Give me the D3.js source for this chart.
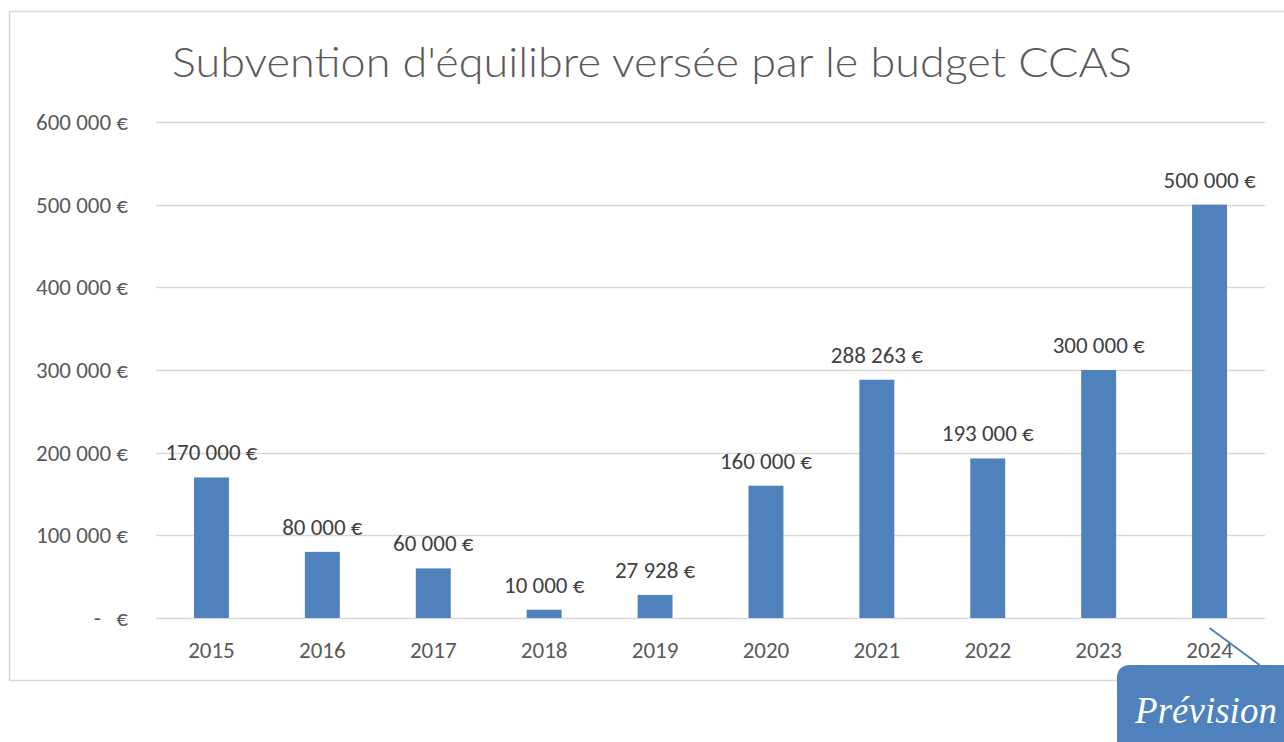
<!DOCTYPE html>
<html>
<head>
<meta charset="utf-8">
<script src="https://cdn.jsdelivr.net/npm/d3@7"></script>
<style>
  body { margin: 0; background: #fff; }
  svg { display: block; }
  text { white-space: pre; }
</style>
</head>
<body>
<script>
const years = ["2015", "2016", "2017", "2018", "2019", "2020", "2021", "2022", "2023", "2024"];
const amounts = [170000, 80000, 60000, 10000, 27928, 160000, 288263, 193000, 300000, 500000];
const yTicks = [0, 100000, 200000, 300000, 400000, 500000, 600000];
const title = "Subvention d'équilibre versée par le budget CCAS";
const callout = "Prévision";

const WIDTH = 1284;
const HEIGHT = 742;
const BLUE = "#4f81bd";
const FONT = "Carlito, Calibri, 'Open Sans', sans-serif";

const svg = d3.select("body")
              .append("svg")
              .attr("width", WIDTH)
              .attr("height", HEIGHT);

// chart frame
svg.append("rect")
   .attr("x", 9.5).attr("y", 11.5)
   .attr("width", 1300).attr("height", 669)
   .attr("fill", "white")
   .attr("stroke", "#d9d9d9")
   .attr("stroke-width", 1.5);

const x = d3.scaleBand()
            .domain(years)
            .range([156, 1265])
            .paddingInner(0.685)
            .paddingOuter(0.3425);

const y = d3.scaleLinear()
            .domain([0, 600000])
            .range([618, 122]);

const fmt = v => v === 0 ? "-   €" : d3.format(",")(v).replace(/,/g, " ") + " €";

// gridlines
svg.append("g")
   .selectAll("line")
   .data(yTicks)
   .join("line")
   .attr("x1", 156).attr("x2", 1265)
   .attr("y1", d => Math.round(y(d)) + 0.5)
   .attr("y2", d => Math.round(y(d)) + 0.5)
   .attr("stroke", "#d9d9d9")
   .attr("stroke-width", 1.5);

// y labels
svg.append("g")
   .selectAll("text")
   .data(yTicks)
   .join("text")
   .attr("x", 128)
   .attr("y", d => y(d) + 8)
   .attr("text-anchor", "end")
   .attr("font-family", FONT)
   .attr("font-size", 23)
   .attr("fill", "#595959")
   .text(fmt);

// bars
svg.append("g")
   .selectAll("rect")
   .data(amounts)
   .join("rect")
   .attr("x", (d, i) => x(years[i]))
   .attr("y", d => y(d))
   .attr("width", x.bandwidth())
   .attr("height", d => y(0) - y(d))
   .attr("fill", BLUE);

// data labels
svg.append("g")
   .selectAll("text")
   .data(amounts)
   .join("text")
   .attr("x", (d, i) => x(years[i]) + x.bandwidth() / 2)
   .attr("y", d => y(d) - 17)
   .attr("text-anchor", "middle")
   .attr("font-family", FONT)
   .attr("font-size", 23)
   .attr("fill", "#404040")
   .text(fmt);

// x labels
svg.append("g")
   .selectAll("text")
   .data(years)
   .join("text")
   .attr("x", d => x(d) + x.bandwidth() / 2)
   .attr("y", 658)
   .attr("text-anchor", "middle")
   .attr("font-family", FONT)
   .attr("font-size", 23)
   .attr("fill", "#595959")
   .text(d => d);

// title
svg.append("text")
   .attr("x", 652)
   .attr("y", 77)
   .attr("text-anchor", "middle")
   .attr("font-family", "Lato, Carlito, sans-serif")
   .attr("font-weight", 300)
   .attr("font-size", 42)
   .attr("fill", "#595959")
   .attr("textLength", 960)
   .attr("lengthAdjust", "spacingAndGlyphs")
   .text(title);

// callout "Prévision"
const last = years[years.length - 1];
const cx = x(last) + x.bandwidth() / 2;
svg.append("line")
   .attr("x1", cx).attr("y1", y(0) + 10)
   .attr("x2", cx + 50).attr("y2", 665)
   .attr("stroke", BLUE)
   .attr("stroke-width", 2);

svg.append("rect")
   .attr("x", 1117).attr("y", 665)
   .attr("width", 200).attr("height", 120)
   .attr("rx", 12)
   .attr("fill", BLUE);

svg.append("text")
   .attr("x", 1206)
   .attr("y", 723)
   .attr("text-anchor", "middle")
   .attr("font-family", "'Liberation Serif', serif")
   .attr("font-style", "italic")
   .attr("font-size", 37)
   .attr("fill", "white")
   .text(callout);
</script>
</body>
</html>
